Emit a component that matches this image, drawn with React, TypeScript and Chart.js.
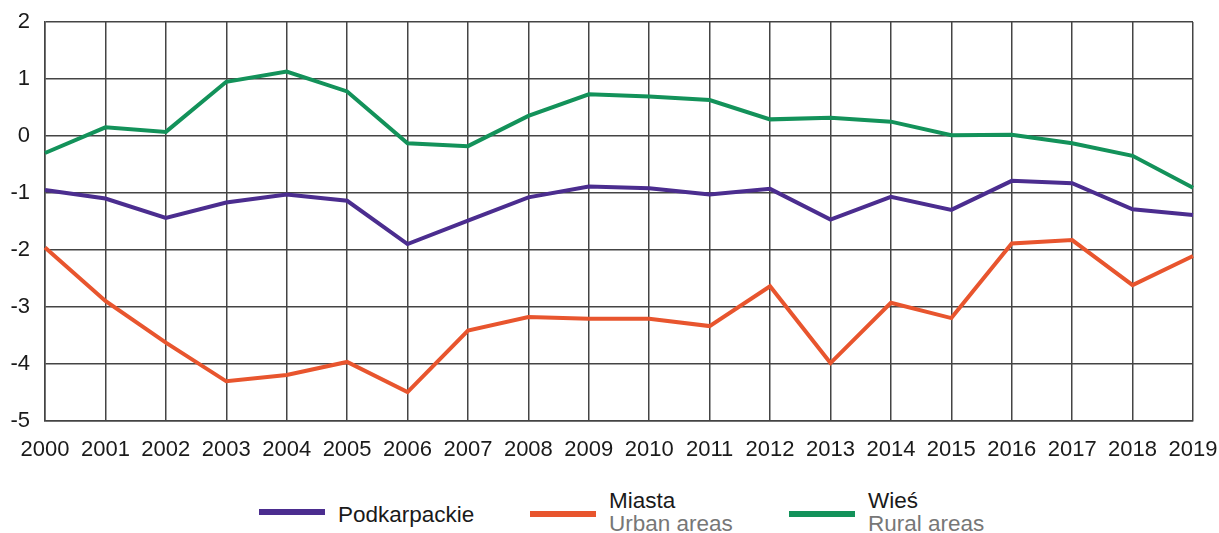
import React, { useEffect, useRef } from "react";
import { Chart, registerables } from "chart.js";

Chart.register(...registerables);

const years = ["2000","2001","2002","2003","2004","2005","2006","2007","2008","2009","2010","2011","2012","2013","2014","2015","2016","2017","2018","2019"];
const podkarpackie = [-0.95,-1.10,-1.44,-1.17,-1.03,-1.14,-1.90,-1.49,-1.08,-0.89,-0.92,-1.03,-0.93,-1.47,-1.07,-1.30,-0.79,-0.83,-1.29,-1.39];
const miasta = [-1.96,-2.90,-3.63,-4.31,-4.20,-3.97,-4.50,-3.42,-3.18,-3.21,-3.21,-3.34,-2.64,-3.99,-2.93,-3.20,-1.89,-1.83,-2.62,-2.11];
const wies = [-0.30,0.15,0.07,0.95,1.13,0.78,-0.13,-0.18,0.35,0.73,0.69,0.63,0.29,0.32,0.25,0.01,0.02,-0.13,-0.35,-0.91];

const PURPLE = "#4b2d8f";
const ORANGE = "#e8552e";
const GREEN = "#13925a";
const FONT = "'Liberation Sans', Arial, sans-serif";

export default function App() {
  const ref = useRef<HTMLCanvasElement | null>(null);
  useEffect(() => {
    document.body.style.margin = "0";
    const ctx = ref.current!;
    const chart = new Chart(ctx, {
      type: "line",
      data: {
        labels: years,
        datasets: [
          { label: "Podkarpackie", data: podkarpackie, borderColor: PURPLE, backgroundColor: PURPLE, borderWidth: 4, pointRadius: 0, tension: 0 },
          { label: "Miasta", data: miasta, borderColor: ORANGE, backgroundColor: ORANGE, borderWidth: 4, pointRadius: 0, tension: 0 },
          { label: "Wieś", data: wies, borderColor: GREEN, backgroundColor: GREEN, borderWidth: 4, pointRadius: 0, tension: 0 },
        ],
      },
      options: {
        animation: false,
        responsive: false,
        maintainAspectRatio: false,
        layout: { padding: { top: 22, right: 0, left: 0, bottom: 0 } },
        plugins: { legend: { display: false }, tooltip: { enabled: false } },
        scales: {
          x: {
            afterFit: (s: any) => { s.paddingRight = 26; s.paddingLeft = 0; },
            grid: { color: "#444444", lineWidth: 1.5, drawTicks: false },
            border: { color: "#444444", width: 1.5 },
            ticks: { color: "#1a1a1a", font: { family: FONT, size: 22 }, padding: 16, maxRotation: 0, autoSkip: false },
          },
          y: {
            min: -5,
            max: 2,
            afterFit: (s: any) => { s.width = 45; s.paddingTop = 0; s.paddingBottom = 0; },
            grid: { color: "#444444", lineWidth: 1.5, drawTicks: false },
            border: { color: "#444444", width: 1.5 },
            ticks: { stepSize: 1, color: "#1a1a1a", font: { family: FONT, size: 22 }, padding: 15 },
          },
        },
      },
    });
    return () => chart.destroy();
  }, []);

  const item = (color: string, main: string, sub: string | undefined, left: number) => (
    <div style={{ position: "absolute", left, top: 0, height: 48, display: "flex", alignItems: "center" }}>
      <div style={{ width: 66, height: 6, background: color, marginRight: 13, marginTop: sub ? 4 : 0 }} />
      <div style={{ fontFamily: FONT, fontSize: 22.5, lineHeight: "23px", marginTop: sub ? 0 : 4 }}>
        <div style={{ color: "#1a1a1a" }}>{main}</div>
        {sub ? <div style={{ color: "#777" }}>{sub}</div> : null}
      </div>
    </div>
  );

  return (
    <div style={{ position: "relative", width: 1219, height: 533 }}>
      <canvas ref={ref} width={1219} height={479} style={{ display: "block" }} />
      <div style={{ position: "absolute", top: 488, left: 0, width: 1219, height: 48 }}>
        {item(PURPLE, "Podkarpackie", undefined, 259)}
        {item(ORANGE, "Miasta", "Urban areas", 530)}
        {item(GREEN, "Wieś", "Rural areas", 789)}
      </div>
    </div>
  );
}
